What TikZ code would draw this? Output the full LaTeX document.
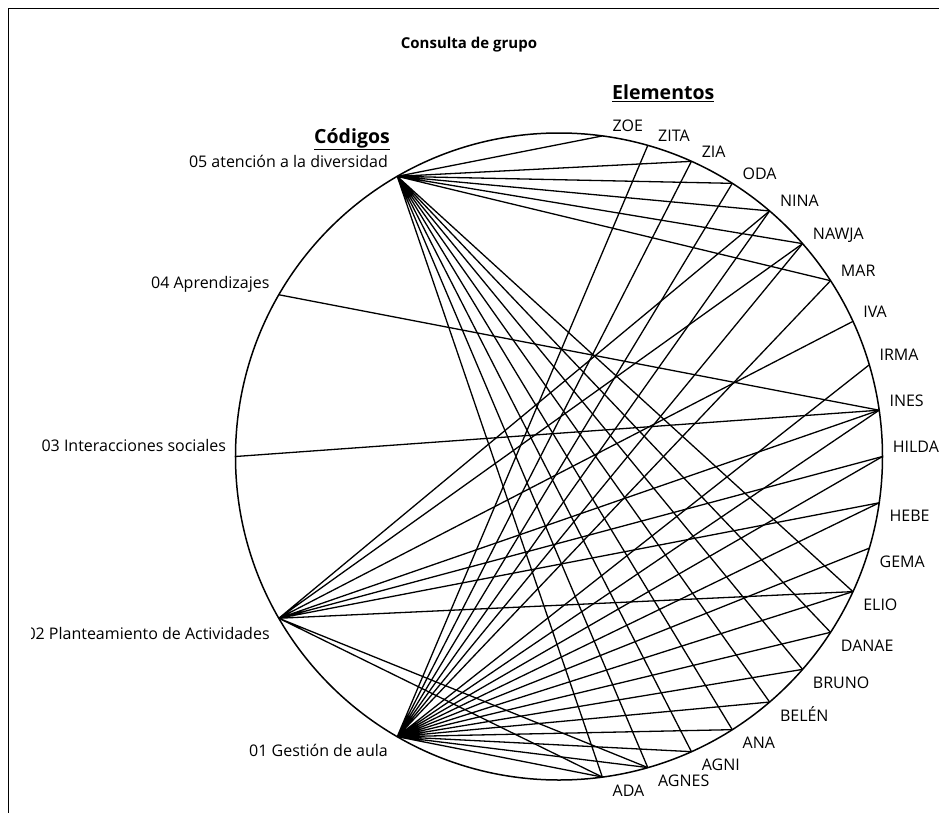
\documentclass[tikz,border=0pt]{standalone}
\usepackage{fontspec}
\setmainfont{Open Sans}
\usetikzlibrary{positioning}
\tikzstyle{pt}     = [circle, inner sep=0pt, minimum size=0pt]
\tikzstyle{link}   = [draw, line width=1.3pt]
\tikzstyle{rim}    = [draw, line width=1.5pt]
\tikzstyle{txt}    = [inner sep=0pt, font=\fontsize{16}{19}\selectfont]
\tikzstyle{elup}   = [txt, anchor=base west, xshift=10pt, yshift=4pt]
\tikzstyle{eldown} = [txt, anchor=base west, xshift=10pt, yshift=-19pt]
\tikzstyle{codelbl}= [txt, anchor=base east, xshift=-9pt]
\tikzstyle{hdr}    = [inner sep=0pt, font=\fontsize{19.5}{23}\selectfont\bfseries]
\def\rr{323.5}

\begin{document}
\begin{tikzpicture}[x=1pt, y=1pt]
    \useasboundingbox (-559,456.5) rectangle (380,-355.5);
    \draw[line width=1pt] (-550,-360) -- (-550,447.5) -- (385,447.5);

    \node[hdr, font=\fontsize{15}{18}\selectfont\bfseries] (title) at (-90,412) {Consulta de grupo};
    \node[hdr, anchor=base west] (elementos) at (53,356.5) {\underline{Elementos}};
    \node[hdr, anchor=base east] (codigos) at (-169,313.5) {\underline{Códigos}};

    \draw[rim] (0,0) circle (\rr);

    % codigos
    \node[pt, label={[codelbl, yshift=9pt]180:05 atención a la diversidad}] (c05) at (120:\rr) {};
    \node[pt, label={[codelbl, yshift=6pt]180:04 Aprendizajes}]             (c04) at (150:\rr) {};
    \node[pt, label={[codelbl, yshift=5pt]180:03 Interacciones sociales}]   (c03) at (180:\rr) {};
    \node[pt] (c02) at (210:\rr) {};
    \node[pt, label={[codelbl, yshift=-20pt]180:01 Gestión de aula}]        (c01) at (240:\rr) {};
    \begin{scope}
        \clip (-527,-200) rectangle (0,0);
        \node[codelbl, yshift=-21pt] (l02) at (c02) {02 Planteamiento de Actividades};
    \end{scope}

    % elementos
    \node[pt, label={[elup]0:ZOE}]     (zoe)   at (82.30:\rr) {};
    \node[pt, label={[elup]0:ZITA}]    (zita)  at (74.07:\rr) {};
    \node[pt, label={[elup]0:ZIA}]     (zia)   at (65.84:\rr) {};
    \node[pt, label={[elup]0:ODA}]     (oda)   at (57.61:\rr) {};
    \node[pt, label={[elup]0:NINA}]    (nina)  at (49.38:\rr) {};
    \node[pt, label={[elup]0:NAWJA}]   (nawja) at (41.15:\rr) {};
    \node[pt, label={[elup]0:MAR}]     (mar)   at (32.92:\rr) {};
    \node[pt, label={[elup]0:IVA}]     (iva)   at (24.69:\rr) {};
    \node[pt, label={[elup]0:IRMA}]    (irma)  at (16.46:\rr) {};
    \node[pt, label={[elup]0:INES}]    (ines)  at (8.23:\rr) {};
    \node[pt, label={[elup]0:HILDA}]   (hilda) at (0:\rr) {};
    \node[pt, label={[eldown]0:HEBE}]  (hebe)  at (-8.23:\rr) {};
    \node[pt, label={[eldown]0:GEMA}]  (gema)  at (-16.46:\rr) {};
    \node[pt, label={[eldown]0:ELIO}]  (elio)  at (-24.69:\rr) {};
    \node[pt, label={[eldown]0:DANAE}] (danae) at (-32.92:\rr) {};
    \node[pt, label={[eldown]0:BRUNO}] (bruno) at (-41.15:\rr) {};
    \node[pt, label={[eldown]0:BELÉN}] (belen) at (-49.38:\rr) {};
    \node[pt, label={[eldown]0:ANA}]   (ana)   at (-57.61:\rr) {};
    \node[pt, label={[eldown]0:AGNI}]  (agni)  at (-65.84:\rr) {};
    \node[pt, label={[eldown]0:AGNES}] (agnes) at (-74.07:\rr) {};
    \node[pt, label={[eldown]0:ADA}]   (ada)   at (-82.30:\rr) {};

    % relaciones
    \path[link] (c05) -- (zoe) (c05) -- (zia) (c05) -- (oda) (c05) -- (nina)
                (c05) -- (nawja) (c05) -- (mar) (c05) -- (elio) (c05) -- (danae)
                (c05) -- (bruno) (c05) -- (belen) (c05) -- (ana) (c05) -- (agni)
                (c05) -- (agnes) (c05) -- (ada);
    \path[link] (c04) -- (ines);
    \path[link] (c03) -- (ines);
    \path[link] (c02) -- (nina) (c02) -- (nawja) (c02) -- (iva) (c02) -- (ines)
                (c02) -- (hilda) (c02) -- (hebe) (c02) -- (elio) (c02) -- (agnes)
                (c02) -- (ada);
    \path[link] (c01) -- (zita) (c01) -- (zia) (c01) -- (oda) (c01) -- (nina)
                (c01) -- (nawja) (c01) -- (mar) (c01) -- (irma) (c01) -- (ines)
                (c01) -- (hilda) (c01) -- (hebe) (c01) -- (gema) (c01) -- (elio)
                (c01) -- (danae) (c01) -- (bruno) (c01) -- (belen) (c01) -- (ana)
                (c01) -- (agni) (c01) -- (agnes) (c01) -- (ada);

\end{tikzpicture}
\end{document}
